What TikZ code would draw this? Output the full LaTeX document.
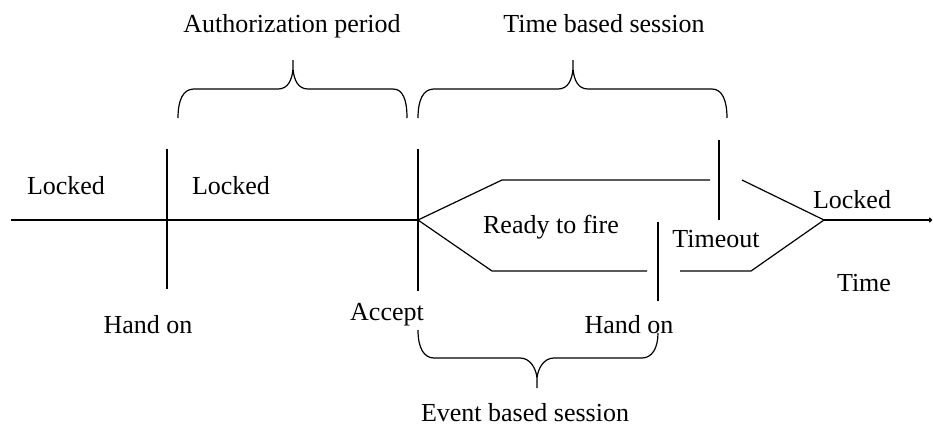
\documentclass[tikz,border=0pt]{standalone}
\usepackage{fontspec}
\setmainfont{Liberation Serif}
\usetikzlibrary{arrows.meta}
\begin{document}
\begin{tikzpicture}[x=1pt,y=-1pt,
  line/.style={line width=1.2pt,line cap=butt},
  lbl/.style={inner sep=0pt,anchor=base,font=\fontsize{26}{30}\selectfont},
  bracepath/.style={line width=1.2pt}]
\useasboundingbox (0,0) rectangle (933,426);

% event markers on the time axis
\coordinate (start) at (11,220);
\coordinate (split) at (418,220);
\coordinate (merge) at (824,220);
\coordinate (tend) at (932,220);
\coordinate (ho1t) at (167,149);  \coordinate (ho1b) at (167,289);
\coordinate (acct) at (418,149);  \coordinate (accb) at (418,291);
\coordinate (tot)  at (719,140);  \coordinate (tob)  at (719,220);
\coordinate (ho2t) at (658,222);  \coordinate (ho2b) at (658,301);

% upper (time based) branch
\coordinate (u1) at (502,180); \coordinate (u2) at (710,180);
\coordinate (u3) at (742,180);
% lower (event based) branch
\coordinate (l1) at (492,271); \coordinate (l2) at (647,271);
\coordinate (l3) at (680,271); \coordinate (l4) at (751,271);

\draw[line] (start) -- (split);
\draw[line] (split) -- (u1) -- (u2);
\draw[line] (u3) -- (merge);
\draw[line] (split) -- (l1) -- (l2);
\draw[line] (l3) -- (l4) -- (merge);
\draw[line,-{To[length=3pt,width=5pt]}] (merge) -- (tend);

\draw[line] (ho1t) -- (ho1b);
\draw[line] (acct) -- (accb);
\draw[line] (tot) -- (tob);
\draw[line] (ho2t) -- (ho2b);

% braces
\draw[bracepath] (178,118) .. controls (178,100) and (183,89) .. (194,89)
  -- (278,89) .. controls (288,89) and (292,80) .. (293,69) -- (293,60)
  (293,69) .. controls (294,80) and (298,89) .. (308,89)
  -- (393,89) .. controls (403,89) and (407,100) .. (407,118);
\draw[bracepath] (418,118) .. controls (418,100) and (423,89) .. (434,89)
  -- (558,89) .. controls (568,89) and (572,80) .. (573,69) -- (573,60)
  (573,69) .. controls (574,80) and (578,89) .. (588,89)
  -- (712,89) .. controls (722,89) and (727,100) .. (727,118);
\draw[bracepath] (418,330) .. controls (418,348) and (424,358) .. (434,358)
  -- (520,358) .. controls (530,358) and (536,368) .. (537,378) -- (537,388)
  (537,378) .. controls (538,368) and (544,358) .. (554,358)
  -- (642,358) .. controls (652,358) and (658,348) .. (658,333);

% labels
\node[lbl] (lk1) at (66,194) {Locked};
\node[lbl] (lk2) at (231,194) {Locked};
\node[lbl] (lk3) at (852,208) {Locked};
\node[lbl] (rtf) at (551,233) {Ready to fire};
\node[lbl] (tmo) at (716,247) {Timeout};
\node[lbl] (tim) at (864,291) {Time};
\node[lbl] (hn1) at (148,333) {Hand on};
\node[lbl] (acc) at (387,320) {Accept};
\node[lbl] (hn2) at (629,333) {Hand on};
\node[lbl] (aut) at (292,32) {Authorization period};
\node[lbl] (tbs) at (604,32) {Time based session};
\node[lbl] (ebs) at (525,421) {Event based session};
\end{tikzpicture}
\end{document}
